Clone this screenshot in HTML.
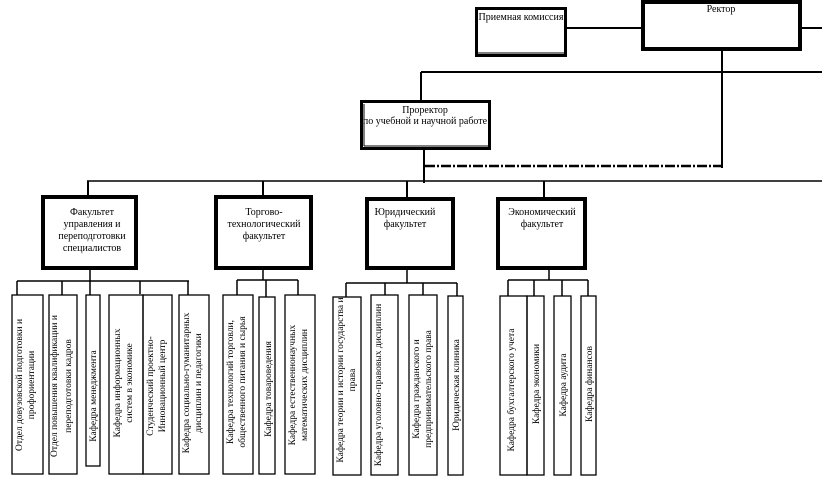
<!DOCTYPE html>
<html><head><meta charset="utf-8"><style>
html,body{margin:0;padding:0;background:#fff;}
svg{display:block;font-family:"Liberation Serif","DejaVu Serif",serif;}
</style></head><body>
<svg width="822" height="481" viewBox="0 0 822 481" xmlns="http://www.w3.org/2000/svg">
<g fill="none" stroke="#000">
<line x1="567" y1="28" x2="641" y2="28" stroke-width="2"/>
<line x1="802" y1="28" x2="822" y2="28" stroke-width="2"/>
<line x1="722" y1="51" x2="722" y2="168" stroke-width="2"/>
<line x1="421" y1="72" x2="822" y2="72" stroke-width="2"/>
<line x1="421" y1="72" x2="421" y2="101" stroke-width="2"/>
<line x1="424" y1="150" x2="424" y2="183" stroke-width="2"/>
<line x1="425" y1="166" x2="722" y2="166" stroke-width="2.5" stroke-dasharray="10,2,2,2"/>
<line x1="87" y1="181" x2="822" y2="181" stroke-width="1.5"/>
<line x1="88" y1="181" x2="88" y2="196" stroke-width="2"/>
<line x1="263" y1="181" x2="263" y2="196" stroke-width="2"/>
<line x1="407" y1="181" x2="407" y2="197" stroke-width="2"/>
<line x1="544" y1="181" x2="544" y2="197" stroke-width="2"/>
<rect x="476.5" y="8.5" width="89" height="47" stroke-width="3"/>
<line x1="478" y1="53" x2="564" y2="53" stroke-width="1"/>
<rect x="643" y="2" width="157" height="47" stroke-width="4"/>
<rect x="361.5" y="101.5" width="128" height="47" stroke-width="3"/>
<line x1="364" y1="146" x2="488" y2="146" stroke-width="1"/>
<line x1="364" y1="104" x2="364" y2="146" stroke-width="1"/>
<rect x="43" y="197" width="93" height="71" stroke-width="4"/>
<rect x="216" y="197" width="95" height="71" stroke-width="4"/>
<rect x="367" y="199" width="86" height="69" stroke-width="4"/>
<rect x="498" y="199" width="87" height="69" stroke-width="4"/>
<line x1="90" y1="270" x2="90" y2="282" stroke-width="1.5"/>
<line x1="17" y1="281" x2="189" y2="281" stroke-width="1.5"/>
<line x1="17" y1="281" x2="17" y2="295" stroke-width="1.5"/>
<line x1="62" y1="281" x2="62" y2="295" stroke-width="1.5"/>
<line x1="90" y1="281" x2="90" y2="295" stroke-width="1.5"/>
<line x1="140" y1="281" x2="140" y2="294" stroke-width="1.5"/>
<line x1="188" y1="281" x2="188" y2="295" stroke-width="1.5"/>
<rect x="12" y="295" width="31" height="179" stroke-width="1.3"/>
<rect x="49" y="295" width="28" height="179" stroke-width="1.3"/>
<rect x="86" y="295" width="14" height="171" stroke-width="1.3"/>
<rect x="109" y="295" width="34" height="179" stroke-width="1.3"/>
<rect x="143" y="295" width="29" height="179" stroke-width="1.3"/>
<rect x="179" y="295" width="30" height="179" stroke-width="1.3"/>
<line x1="263" y1="270" x2="263" y2="280" stroke-width="1.5"/>
<line x1="237" y1="280" x2="298" y2="280" stroke-width="1.5"/>
<line x1="237" y1="280" x2="237" y2="295" stroke-width="1.5"/>
<line x1="266" y1="280" x2="266" y2="297" stroke-width="1.5"/>
<line x1="298" y1="280" x2="298" y2="295" stroke-width="1.5"/>
<rect x="223" y="295" width="30" height="179" stroke-width="1.3"/>
<rect x="259" y="297" width="16" height="177" stroke-width="1.3"/>
<rect x="285" y="295" width="30" height="179" stroke-width="1.3"/>
<line x1="407" y1="270" x2="407" y2="283" stroke-width="1.5"/>
<line x1="346" y1="283" x2="457" y2="283" stroke-width="1.5"/>
<line x1="346" y1="283" x2="346" y2="297" stroke-width="1.5"/>
<line x1="385" y1="283" x2="385" y2="295" stroke-width="1.5"/>
<line x1="423" y1="283" x2="423" y2="295" stroke-width="1.5"/>
<line x1="457" y1="283" x2="457" y2="296" stroke-width="1.5"/>
<rect x="333" y="297" width="28" height="178" stroke-width="1.3"/>
<rect x="371" y="295" width="27" height="180" stroke-width="1.3"/>
<rect x="409" y="295" width="28" height="180" stroke-width="1.3"/>
<rect x="448" y="296" width="15" height="179" stroke-width="1.3"/>
<line x1="549" y1="270" x2="549" y2="280" stroke-width="1.5"/>
<line x1="508" y1="280" x2="588" y2="280" stroke-width="1.5"/>
<line x1="508" y1="280" x2="508" y2="296" stroke-width="1.5"/>
<line x1="534" y1="280" x2="534" y2="296" stroke-width="1.5"/>
<line x1="562" y1="280" x2="562" y2="296" stroke-width="1.5"/>
<line x1="588" y1="280" x2="588" y2="296" stroke-width="1.5"/>
<rect x="500" y="296" width="27" height="179" stroke-width="1.3"/>
<rect x="527" y="296" width="17" height="179" stroke-width="1.3"/>
<rect x="554" y="296" width="17" height="179" stroke-width="1.3"/>
<rect x="581" y="296" width="15" height="179" stroke-width="1.3"/>
</g>
<g font-size="10" fill="#000" text-anchor="middle">
<text x="521" y="20">Приемная комиссия</text>
<text x="721" y="12">Ректор</text>
<text x="425" y="113">Проректор</text>
<text x="425" y="124">по учебной и научной работе</text>
<text x="92" y="215">Факультет</text>
<text x="92" y="227">управления  и</text>
<text x="92" y="239">переподготовки</text>
<text x="92" y="251">специалистов</text>
<text x="264" y="215">Торгово-</text>
<text x="264" y="227">технологический</text>
<text x="264" y="239">факультет</text>
<text x="405" y="215">Юридический</text>
<text x="405" y="227">факультет</text>
<text x="542" y="215">Экономический</text>
<text x="542" y="227">факультет</text>
</g>
<g font-size="9.5" fill="#000" text-anchor="middle">
<text transform="translate(22,385) rotate(-90)">Отдел довузовской подготовки и</text>
<text transform="translate(34,385) rotate(-90)">профориентации</text>
<text transform="translate(57,386) rotate(-90)">Отдел повышения квалификации и</text>
<text transform="translate(71,386) rotate(-90)">переподготовки кадров</text>
<text transform="translate(96,396) rotate(-90)">Кафедра менеджмента</text>
<text transform="translate(120,383) rotate(-90)">Кафедра информационных</text>
<text transform="translate(132,383) rotate(-90)">систем в экономике</text>
<text transform="translate(153,386) rotate(-90)">Студенческий проектно-</text>
<text transform="translate(165,386) rotate(-90)">Инновационный центр</text>
<text transform="translate(189,383) rotate(-90)">Кафедра социально-гуманитарных</text>
<text transform="translate(201,383) rotate(-90)">дисциплин и педагогики</text>
<text transform="translate(233,382) rotate(-90)">Кафедра технологий торговли,</text>
<text transform="translate(245,382) rotate(-90)">общественного питания и сырья</text>
<text transform="translate(271,389) rotate(-90)">Кафедра товароведения</text>
<text transform="translate(295,385) rotate(-90)">Кафедра естественнонаучных</text>
<text transform="translate(307,385) rotate(-90)">математических дисциплин</text>
<text transform="translate(343,380) rotate(-90)">Кафедра теории и истории государства и</text>
<text transform="translate(355,380) rotate(-90)">права</text>
<text transform="translate(381,385) rotate(-90)">Кафедра  уголовно-правовых дисциплин</text>
<text transform="translate(419,389) rotate(-90)">Кафедра гражданского и</text>
<text transform="translate(431,389) rotate(-90)">предпринимательского права</text>
<text transform="translate(459,385) rotate(-90)">Юридическая клиника</text>
<text transform="translate(514,390) rotate(-90)">Кафедра бухгалтерского учета</text>
<text transform="translate(539,384) rotate(-90)">Кафедра экономики</text>
<text transform="translate(566,385) rotate(-90)">Кафедра аудита</text>
<text transform="translate(592,384) rotate(-90)">Кафедра финансов</text>
</g>
</svg>
</body></html>
